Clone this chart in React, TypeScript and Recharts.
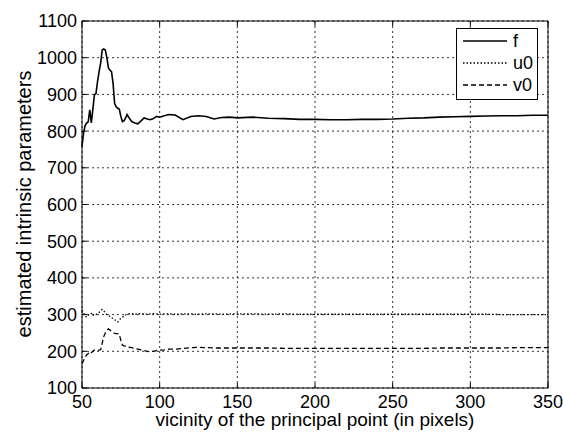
import React from "react";
import {
  LineChart,
  Line,
  XAxis,
  YAxis,
  CartesianGrid,
  Legend,
} from "recharts";

// x positions (pixels from the principal point)
const xs = [
  50, 51, 52, 53, 54, 55, 56, 57, 58, 59, 60, 61, 62, 63, 64, 65, 66, 67, 68, 69,
  70, 71, 72, 73, 74, 75, 76, 77, 78, 79, 80,
  82, 84, 86, 88, 90, 92, 94, 96, 98, 100,
  103, 106, 110, 115, 120, 125, 130, 135, 140, 145, 150,
  160, 170, 180, 190, 200, 210, 220, 230, 240, 250, 260, 270, 280, 290, 300,
  310, 320, 330, 340, 350,
];

const fVals = [
  758, 795, 815, 822, 825, 858, 822, 860, 899, 902, 935, 962, 985, 1021, 1024,
  1021, 1000, 972, 966, 962, 930, 875, 866, 862, 860, 840, 826, 828, 835, 845, 838,
  826, 822, 820, 828, 836, 833, 831, 834, 840, 838,
  842, 845, 844, 831, 840, 842, 840, 833, 837, 838, 836,
  838, 835, 834, 832, 832, 831, 831, 832, 832, 833, 835, 836, 838, 839, 840,
  841, 842, 842, 843, 843,
];

const u0Vals = [
  312, 305, 296, 293, 298, 302, 303, 297, 301, 300, 304, 306, 310, 314, 310,
  305, 300, 298, 295, 292, 289, 286, 283, 280, 285, 290, 293, 296, 299, 301, 302,
  303, 301, 302, 303, 302, 301, 302, 303, 302, 301,
  302, 302, 301, 302, 302, 301, 302, 302, 301, 302, 302,
  302, 301, 302, 301, 301, 301, 301, 301, 301, 301, 301, 301, 301, 301, 301,
  301, 300, 300, 300, 300,
];

const v0Vals = [
  166, 175, 184, 190, 194, 199, 196, 200, 203, 202, 203, 203, 204, 222, 240,
  250, 256, 261, 258, 254, 251, 249, 248, 248, 247, 230, 217, 215, 214, 213, 211,
  210, 208, 206, 204, 202, 200, 199, 200, 202, 203,
  204, 206, 206, 208, 210, 211, 210, 209, 209, 209, 209,
  209, 209, 208, 208, 208, 208, 208, 208, 208, 208, 208, 208, 209, 209, 209,
  209, 209, 210, 210, 210,
];

const xTicks = [50, 100, 150, 200, 250, 300, 350];
const yTicks = [100, 200, 300, 400, 500, 600, 700, 800, 900, 1000, 1100];

const data = xs.map((x, i) => ({ x, f: fVals[i], u0: u0Vals[i], v0: v0Vals[i] }));

const FONT = "'Liberation Sans', Arial, sans-serif";
const TICK_LEN = 5;

const BottomTick = (props: any) => {
  const { x, y, payload } = props;
  const top = y - 7;
  return (
    <g>
      <line x1={x} x2={x} y1={top} y2={top - TICK_LEN} stroke="#000" />
      <text x={x} y={y} dy="0.71em" textAnchor="middle" fontSize={18} fontFamily={FONT} fill="#000">
        {payload.value}
      </text>
    </g>
  );
};

const LeftTick = (props: any) => {
  const { x, y, payload } = props;
  const edge = x + 5;
  return (
    <g>
      <line x1={edge} x2={edge + TICK_LEN} y1={y} y2={y} stroke="#000" />
      <text x={x} y={y} dy="0.36em" textAnchor="end" fontSize={18} fontFamily={FONT} fill="#000">
        {payload.value}
      </text>
    </g>
  );
};

const TopTick = (props: any) => {
  const { x, y } = props;
  return <line x1={x} x2={x} y1={y} y2={y + TICK_LEN} stroke="#000" />;
};

const RightTick = (props: any) => {
  const { x, y } = props;
  return <line x1={x} x2={x - TICK_LEN} y1={y} y2={y} stroke="#000" />;
};

const legendRows = [
  { name: "f", dash: undefined, w: 1.6 },
  { name: "u0", dash: "1.5 2", w: 1.3 },
  { name: "v0", dash: "5 3", w: 1.3 },
];

const LegendBox = () => (
  <svg width={83} height={73} style={{ display: "block" }}>
    <rect x={0.5} y={0.5} width={81} height={71} fill="#fff" stroke="#000" />
    {legendRows.map((r, i) => {
      const cy = 13 + i * 22;
      return (
        <g key={r.name}>
          <line x1={7} x2={51} y1={cy} y2={cy} stroke="#000" strokeWidth={r.w} strokeDasharray={r.dash} />
          <text x={57} y={cy} dy="0.36em" fontSize={18} fontFamily={FONT} fill="#000">
            {r.name}
          </text>
        </g>
      );
    })}
  </svg>
);

const xTitle = () => (
  <text x={315} y={426} textAnchor="middle" fontSize={19} fontFamily={FONT} fill="#000">
    vicinity of the principal point (in pixels)
  </text>
);

const yTitle = () => (
  <text
    x={31}
    y={204}
    transform="rotate(-90, 31, 204)"
    textAnchor="middle"
    fontSize={20}
    fontFamily={FONT}
    fill="#000"
  >
    estimated intrinsic parameters
  </text>
);

export default function App() {
  return (
    <div style={{ position: "absolute", left: 0, top: 0, width: 563, height: 435, background: "#fff" }}>
      <LineChart width={563} height={435} data={data} margin={{ top: 0, right: 0, bottom: 0, left: 0 }}>
        <CartesianGrid stroke="#000" strokeDasharray="2 3" strokeWidth={0.8} />
        <XAxis
          dataKey="x"
          type="number"
          domain={[50, 350]}
          ticks={xTicks}
          height={47}
          tickSize={0}
          tickMargin={7}
          axisLine={{ stroke: "#000" }}
          tick={<BottomTick />}
          label={xTitle}
        />
        <XAxis
          xAxisId="top"
          orientation="top"
          dataKey="x"
          type="number"
          domain={[50, 350]}
          ticks={xTicks}
          height={21}
          tickSize={0}
          tickMargin={0}
          axisLine={{ stroke: "#000" }}
          tick={<TopTick />}
        />
        <YAxis
          type="number"
          domain={[100, 1100]}
          ticks={yTicks}
          width={82}
          tickSize={0}
          tickMargin={5}
          axisLine={{ stroke: "#000" }}
          tick={<LeftTick />}
          label={yTitle}
        />
        <YAxis
          yAxisId="right"
          orientation="right"
          type="number"
          domain={[100, 1100]}
          ticks={yTicks}
          width={15}
          tickSize={0}
          tickMargin={0}
          axisLine={{ stroke: "#000" }}
          tick={<RightTick />}
        />
        <Legend
          layout="vertical"
          align="center"
          verticalAlign="middle"
          content={<LegendBox />}
          wrapperStyle={{ position: "absolute", left: 456, top: 28, width: 83, height: 73 }}
        />
        <Line dataKey="f" stroke="#000" strokeWidth={1.6} dot={false} isAnimationActive={false} />
        <Line dataKey="u0" stroke="#000" strokeWidth={1.3} strokeDasharray="1.5 2" dot={false} isAnimationActive={false} />
        <Line dataKey="v0" stroke="#000" strokeWidth={1.3} strokeDasharray="5 3" dot={false} isAnimationActive={false} />
      </LineChart>
    </div>
  );
}
